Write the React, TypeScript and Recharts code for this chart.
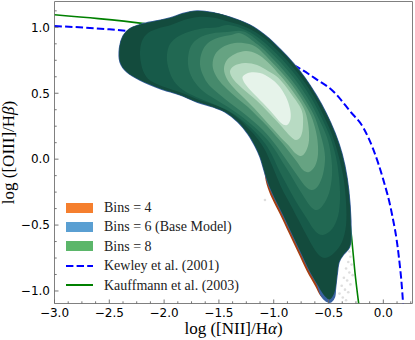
import React from "react";
import { ScatterChart, Scatter, XAxis, YAxis, ReferenceArea, Legend } from "recharts";

type Pt = [number, number];

// axes
const X_DOMAIN: [number, number] = [-3, 0.266];
const Y_DOMAIN: [number, number] = [-1.095, 1.196];
const X_MAJOR = [-3, -2.5, -2, -1.5, -1, -0.5, 0];
const Y_MAJOR = [-1, -0.5, 0, 0.5, 1];

// demarcation lines
const KEWLEY_X = [-3.0, -2.5, -2.0, -1.5, -1.0, -0.8, -0.6, -0.47, -0.3, -0.18, -0.09, 0.0, 0.077, 0.137, 0.172, 0.18];
const KEWLEY_Y = [1.01, 0.985, 0.943, 0.88, 0.775, 0.705, 0.6, 0.525, 0.36, 0.235, 0.07, -0.157, -0.41, -0.71, -1.0, -1.095];
const KAUFF_X = [-3.0, -2.6, -2.2, -1.8, -1.4, -1.0, -0.7, -0.5, -0.4, -0.33, -0.29, -0.26, -0.225];
const KAUFF_Y = [1.095, 1.066, 1.03, 0.98, 0.9, 0.72, 0.49, 0.19, -0.06, -0.32, -0.59, -0.85, -1.095];

// faint individual galaxies outside the contours
const OUTLIERS: Pt[] = [
  [-0.3, -0.74], [-0.32, -0.78], [-0.29, -0.8], [-0.34, -0.83], [-0.31, -0.86], [-0.28, -0.88],
  [-0.36, -0.9], [-0.33, -0.92], [-0.3, -0.95], [-0.38, -0.96], [-0.35, -0.99], [-0.32, -1.01],
  [-0.4, -1.02], [-0.37, -1.05], [-0.34, -1.07], [-0.31, -0.7], [-1.08, -0.31],
];

// outermost contour of each model
const BINS4_EDGE: Pt[] = [
  [-2.311, 0.991], [-2.204, 1.025], [-2.074, 1.048], [-1.947, 1.071], [-1.828, 1.105], [-1.7, 1.124],
  [-1.555, 1.112], [-1.399, 1.078], [-1.216, 1.017], [-1.07, 0.934], [-0.943, 0.835], [-0.824, 0.729],
  [-0.714, 0.615], [-0.614, 0.487], [-0.523, 0.35], [-0.441, 0.198], [-0.377, 0.039], [-0.331, -0.143],
  [-0.304, -0.348], [-0.295, -0.575], [-0.308, -0.666], [-0.359, -0.719], [-0.404, -0.78], [-0.422, -0.878],
  [-0.436, -0.977], [-0.455, -1.04], [-0.495, -1.074], [-0.525, -1.068], [-0.573, -1.038], [-0.625, -0.958],
  [-0.698, -0.851], [-0.78, -0.707], [-0.862, -0.562], [-0.944, -0.418], [-1.017, -0.297], [-1.066, -0.188],
  [-1.089, -0.082], [-1.125, 0.016], [-1.171, 0.1], [-1.235, 0.191], [-1.327, 0.282], [-1.445, 0.358],
  [-1.555, 0.396], [-1.7, 0.433], [-1.855, 0.487], [-2.038, 0.536], [-2.22, 0.6], [-2.339, 0.661],
  [-2.402, 0.737], [-2.407, 0.843], [-2.375, 0.934],
];
const BINS6_EDGE: Pt[] = [
  [-2.311, 0.991], [-2.204, 1.025], [-2.074, 1.048], [-1.947, 1.071], [-1.828, 1.105], [-1.7, 1.124],
  [-1.555, 1.112], [-1.399, 1.078], [-1.216, 1.017], [-1.07, 0.934], [-0.943, 0.835], [-0.824, 0.729],
  [-0.714, 0.615], [-0.614, 0.487], [-0.523, 0.35], [-0.441, 0.198], [-0.377, 0.039], [-0.331, -0.143],
  [-0.304, -0.348], [-0.295, -0.575], [-0.308, -0.666], [-0.359, -0.719], [-0.404, -0.78], [-0.422, -0.878],
  [-0.436, -0.977], [-0.445, -1.045], [-0.477, -1.083], [-0.523, -1.076], [-0.569, -1.029], [-0.605, -0.947],
  [-0.678, -0.84], [-0.76, -0.696], [-0.842, -0.553], [-0.924, -0.409], [-0.997, -0.287], [-1.052, -0.181],
  [-1.089, -0.082], [-1.125, 0.016], [-1.171, 0.1], [-1.235, 0.191], [-1.327, 0.282], [-1.445, 0.358],
  [-1.555, 0.396], [-1.7, 0.433], [-1.855, 0.487], [-2.038, 0.536], [-2.22, 0.6], [-2.339, 0.661],
  [-2.402, 0.737], [-2.407, 0.843], [-2.375, 0.934],
];

// Bins = 8 density levels, outside -> inside
const LEVEL_1: Pt[] = [
  [-2.311, 0.991], [-2.204, 1.025], [-2.074, 1.048], [-1.947, 1.071], [-1.828, 1.105], [-1.7, 1.124],
  [-1.555, 1.112], [-1.399, 1.078], [-1.216, 1.017], [-1.07, 0.934], [-0.943, 0.835], [-0.824, 0.729],
  [-0.714, 0.615], [-0.614, 0.487], [-0.523, 0.35], [-0.441, 0.198], [-0.377, 0.039], [-0.331, -0.143],
  [-0.304, -0.348], [-0.295, -0.575], [-0.308, -0.666], [-0.359, -0.719], [-0.404, -0.78], [-0.422, -0.878],
  [-0.436, -0.977], [-0.459, -1.037], [-0.495, -1.064], [-0.55, -1.022], [-0.605, -0.947], [-0.678, -0.84],
  [-0.76, -0.696], [-0.842, -0.553], [-0.924, -0.409], [-0.997, -0.287], [-1.052, -0.181], [-1.089, -0.082],
  [-1.125, 0.016], [-1.171, 0.1], [-1.235, 0.191], [-1.327, 0.282], [-1.445, 0.358], [-1.555, 0.396],
  [-1.7, 0.433], [-1.855, 0.487], [-2.038, 0.536], [-2.22, 0.6], [-2.339, 0.661], [-2.402, 0.737],
  [-2.407, 0.843], [-2.375, 0.934],
];
const LEVEL_2: Pt[] = [
  [-2.22, 0.813], [-2.202, 0.896], [-2.147, 0.957], [-2.056, 0.991], [-1.938, 1.017], [-1.819, 1.055],
  [-1.691, 1.078], [-1.555, 1.074], [-1.399, 1.04], [-1.235, 0.995], [-1.089, 0.919], [-0.961, 0.82],
  [-0.842, 0.714], [-0.733, 0.6], [-0.632, 0.471], [-0.55, 0.339], [-0.468, 0.187], [-0.409, 0.028],
  [-0.363, -0.143], [-0.34, -0.333], [-0.34, -0.5], [-0.377, -0.628], [-0.45, -0.712], [-0.532, -0.75],
  [-0.605, -0.712], [-0.687, -0.598], [-0.769, -0.469], [-0.851, -0.34], [-0.924, -0.226], [-0.979, -0.12],
  [-1.029, -0.022], [-1.075, 0.062], [-1.139, 0.145], [-1.226, 0.228], [-1.308, 0.297], [-1.418, 0.365],
  [-1.537, 0.411], [-1.682, 0.449], [-1.837, 0.502], [-2.011, 0.551], [-2.129, 0.597], [-2.183, 0.653],
  [-2.211, 0.729],
];
const LEVEL_3: Pt[] = [
  [-1.975, 0.767], [-1.956, 0.858], [-1.893, 0.919], [-1.782, 0.964], [-1.655, 0.991], [-1.527, 0.998],
  [-1.409, 1.017], [-1.253, 0.977], [-1.107, 0.901], [-0.979, 0.803], [-0.86, 0.697], [-0.751, 0.583],
  [-0.651, 0.454], [-0.572, 0.33], [-0.49, 0.179], [-0.432, 0.016], [-0.404, -0.143], [-0.395, -0.294],
  [-0.413, -0.431], [-0.468, -0.53], [-0.55, -0.575], [-0.623, -0.545], [-0.696, -0.454], [-0.778, -0.348],
  [-0.851, -0.241], [-0.915, -0.143], [-0.97, -0.052], [-1.016, 0.031], [-1.07, 0.107], [-1.143, 0.183],
  [-1.226, 0.251], [-1.327, 0.32], [-1.445, 0.38], [-1.573, 0.426], [-1.709, 0.471], [-1.828, 0.524],
  [-1.911, 0.593], [-1.956, 0.676],
];
const LEVEL_4: Pt[] = [
  [-1.782, 0.767], [-1.755, 0.858], [-1.682, 0.919], [-1.564, 0.953], [-1.427, 0.964], [-1.273, 0.968],
  [-1.127, 0.885], [-0.999, 0.786], [-0.88, 0.68], [-0.771, 0.566], [-0.671, 0.437], [-0.597, 0.32],
  [-0.515, 0.169], [-0.477, 0.024], [-0.468, -0.12], [-0.495, -0.257], [-0.55, -0.348], [-0.605, -0.386],
  [-0.66, -0.363], [-0.724, -0.287], [-0.787, -0.204], [-0.851, -0.112], [-0.915, -0.029], [-0.97, 0.047],
  [-1.034, 0.122], [-1.107, 0.191], [-1.198, 0.259], [-1.299, 0.327], [-1.418, 0.396], [-1.537, 0.456],
  [-1.646, 0.517], [-1.728, 0.593], [-1.773, 0.676],
];
const LEVEL_5: Pt[] = [
  [-1.673, 0.722], [-1.655, 0.813], [-1.6, 0.881], [-1.5, 0.923], [-1.39, 0.942], [-1.292, 0.952],
  [-1.146, 0.869], [-1.018, 0.77], [-0.9, 0.664], [-0.79, 0.55], [-0.69, 0.421], [-0.621, 0.311],
  [-0.559, 0.145], [-0.532, 0.016], [-0.55, -0.112], [-0.596, -0.204], [-0.651, -0.234], [-0.705, -0.211],
  [-0.769, -0.143], [-0.833, -0.067], [-0.897, 0.009], [-0.961, 0.084], [-1.025, 0.153], [-1.098, 0.221],
  [-1.189, 0.289], [-1.289, 0.358], [-1.399, 0.426], [-1.5, 0.494], [-1.591, 0.562], [-1.646, 0.638],
];
const LEVEL_6: Pt[] = [
  [-1.555, 0.691], [-1.546, 0.775], [-1.491, 0.835], [-1.399, 0.873], [-1.28, 0.881], [-1.164, 0.852],
  [-1.036, 0.753], [-0.918, 0.647], [-0.808, 0.534], [-0.708, 0.405], [-0.646, 0.301], [-0.605, 0.168],
  [-0.596, 0.039], [-0.623, -0.052], [-0.678, -0.097], [-0.733, -0.082], [-0.787, -0.022], [-0.851, 0.047],
  [-0.915, 0.115], [-0.988, 0.183], [-1.061, 0.251], [-1.143, 0.32], [-1.235, 0.396], [-1.336, 0.464],
  [-1.427, 0.532], [-1.509, 0.608],
];
const LEVEL_7: Pt[] = [
  [-1.454, 0.684], [-1.427, 0.752], [-1.354, 0.798], [-1.253, 0.82], [-1.152, 0.798], [-1.056, 0.737],
  [-0.937, 0.63], [-0.828, 0.517], [-0.727, 0.388], [-0.687, 0.274], [-0.678, 0.145], [-0.705, 0.062],
  [-0.751, 0.024], [-0.806, 0.047], [-0.86, 0.1], [-0.933, 0.16], [-1.006, 0.228], [-1.089, 0.305],
  [-1.18, 0.388], [-1.271, 0.464], [-1.363, 0.54], [-1.427, 0.608],
];
const LEVEL_8: Pt[] = [
  [-1.399, 0.661], [-1.363, 0.707], [-1.262, 0.729], [-1.152, 0.714], [-1.052, 0.669], [-0.956, 0.615],
  [-0.847, 0.502], [-0.746, 0.373], [-0.733, 0.259], [-0.751, 0.176], [-0.797, 0.145], [-0.851, 0.176],
  [-0.924, 0.244], [-1.034, 0.343], [-1.161, 0.449], [-1.28, 0.532], [-1.363, 0.6],
];
const LEVEL_9: Pt[] = [
  [-1.28, 0.63], [-1.216, 0.657], [-1.125, 0.653], [-1.034, 0.615], [-0.952, 0.555], [-0.888, 0.471],
  [-0.851, 0.38], [-0.847, 0.305], [-0.879, 0.259], [-0.933, 0.274], [-1.006, 0.343], [-1.098, 0.426],
  [-1.189, 0.502], [-1.253, 0.562], [-1.28, 0.6],
];
const BINS8_LEVELS = [LEVEL_1, LEVEL_2, LEVEL_3, LEVEL_4, LEVEL_5, LEVEL_6, LEVEL_7, LEVEL_8, LEVEL_9];
const BINS8_COLORS = ["#134b3d", "#175a49", "#216852", "#2f765d", "#468a6c", "#66a382", "#8fc0a0", "#b8dbc3", "#e6f3ea"];

const LEGEND_ITEMS = [
  { label: "Bins = 4", kind: "patch", color: "#f57f2e" },
  { label: "Bins = 6 (Base Model)", kind: "patch", color: "#5a9fd2" },
  { label: "Bins = 8", kind: "patch", color: "#5bb66a" },
  { label: "Kewley et al. (2001)", kind: "dash", color: "#0000ff" },
  { label: "Kauffmann et al. (2003)", kind: "line", color: "#008000" },
];

const toXY = (pts: Pt[]) => pts.map(([x, y]) => ({ x, y }));
const zipXY = (xs: number[], ys: number[]) => xs.map((x, i) => ({ x, y: ys[i] }));

// smooth closed path through the projected points (Catmull-Rom)
function closedPath(pts: { x: number; y: number }[]) {
  const n = pts.length;
  if (!n) return "";
  let d = `M${pts[0].x},${pts[0].y}`;
  for (let i = 0; i < n; i++) {
    const p0 = pts[(i - 1 + n) % n];
    const p1 = pts[i];
    const p2 = pts[(i + 1) % n];
    const p3 = pts[(i + 2) % n];
    const c1x = p1.x + (p2.x - p0.x) / 6;
    const c1y = p1.y + (p2.y - p0.y) / 6;
    const c2x = p2.x - (p3.x - p1.x) / 6;
    const c2y = p2.y - (p3.y - p1.y) / 6;
    d += `C${c1x},${c1y} ${c2x},${c2y} ${p2.x},${p2.y}`;
  }
  return d + "Z";
}

const noDot = () => <g />;

const isMajor = (v: number) => Math.abs(v * 2 - Math.round(v * 2)) < 1e-6;
const fmt = (v: number) => v.toFixed(1).replace("-", "\u2212");

function minorTicks(major: number[], lo: number, hi: number) {
  const out: number[] = [];
  const step = (major[1] - major[0]) / 4;
  for (let v = major[0] - 8 * step; v <= hi + 1e-9; v += step) {
    if (v >= lo - 1e-9) out.push(Math.round(v * 1000) / 1000);
  }
  return out;
}
const X_TICKS = minorTicks(X_MAJOR, X_DOMAIN[0], X_DOMAIN[1]);
const Y_TICKS = minorTicks(Y_MAJOR, Y_DOMAIN[0], Y_DOMAIN[1]);

const XTick = (props: any) => {
  const { x, y, payload } = props;
  const major = isMajor(payload.value);
  return (
    <g>
      <line x1={x} x2={x} y1={y} y2={y - (major ? 4 : 2.2)} stroke="#666" strokeWidth={0.9} />
      {major && (
        <text x={x} y={y + 13.5} textAnchor="middle" fontFamily="DejaVu Sans" fontSize={12} fill="#000">
          {fmt(payload.value)}
        </text>
      )}
    </g>
  );
};

const YTick = (props: any) => {
  const { x, y, payload } = props;
  const major = isMajor(payload.value);
  return (
    <g>
      <line x1={x} x2={x + (major ? 4 : 2.2)} y1={y} y2={y} stroke="#666" strokeWidth={0.9} />
      {major && (
        <text x={x - 4.5} y={y + 4.3} textAnchor="end" fontFamily="DejaVu Sans" fontSize={12} fill="#000">
          {fmt(payload.value)}
        </text>
      )}
    </g>
  );
};

const XLabel = (props: any) => {
  const vb = props.viewBox || { x: 54.5, y: 303.5, width: 358, height: 36 };
  return (
    <text x={vb.x + vb.width / 2} y={vb.y + 30.5} textAnchor="middle" fontFamily="Liberation Serif" fontSize={17} fill="#000">
      log ([NII]/H<tspan fontStyle="italic">α</tspan>)
    </text>
  );
};

const YLabel = (props: any) => {
  const vb = props.viewBox || { x: 0.5, y: 1.5, width: 54, height: 302 };
  const cx = 14;
  const cy = vb.y + vb.height / 2;
  return (
    <text x={cx} y={cy} transform={`rotate(-90 ${cx} ${cy})`} textAnchor="middle" fontFamily="Liberation Serif" fontSize={17} fill="#000">
      log ([OIII]/H<tspan fontStyle="italic">β</tspan>)
    </text>
  );
};

const LegendBox = () => (
  <div style={{ fontFamily: "Liberation Serif", fontSize: 14, color: "#222" }}>
    {LEGEND_ITEMS.map((it) => (
      <div key={it.label} style={{ display: "flex", alignItems: "center", height: 19.4, lineHeight: "19.4px", whiteSpace: "nowrap" }}>
        <svg width={27} height={12} style={{ marginRight: 11 }}>
          {it.kind === "patch" && <rect x={0} y={1} width={27} height={10} fill={it.color} />}
          {it.kind === "dash" && <line x1={0} x2={27} y1={6} y2={6} stroke={it.color} strokeWidth={2} strokeDasharray="7.4 3.2" />}
          {it.kind === "line" && <line x1={0} x2={27} y1={6} y2={6} stroke={it.color} strokeWidth={2} />}
        </svg>
        <span>{it.label}</span>
      </div>
    ))}
  </div>
);

const band = (key: string, pts: Pt[], fill: string, rim?: string) => (
  <Scatter
    key={key}
    data={toXY(pts)}
    isAnimationActive={false}
    shape={noDot}
    legendType="none"
    line={(p: any) => (
      <path d={closedPath(p.points)} fill={fill} stroke={rim || "none"} strokeWidth={rim ? 1.4 : 0} />
    )}
  />
);

export default function App() {
  return (
    <div style={{ position: "absolute", left: 0, top: 0, background: "#fff" }}>
      <ScatterChart width={415} height={340} margin={{ top: 1.5, right: 2.5, bottom: 0.5, left: 0.5 }}>
        <XAxis
          type="number"
          dataKey="x"
          domain={X_DOMAIN}
          allowDataOverflow
          ticks={X_TICKS}
          interval={0}
          tick={<XTick />}
          tickLine={false}
          axisLine={false}
          tickSize={0}
          tickMargin={0}
          height={36}
          label={<XLabel />}
        />
        <YAxis
          type="number"
          dataKey="y"
          domain={Y_DOMAIN}
          allowDataOverflow
          ticks={Y_TICKS}
          interval={0}
          tick={<YTick />}
          tickLine={false}
          axisLine={false}
          tickSize={0}
          tickMargin={0}
          width={54}
          label={<YLabel />}
        />
        <Scatter data={toXY(OUTLIERS)} isAnimationActive={false} fill="#c8c8c8" fillOpacity={0.6}
          shape={(p: any) => <circle cx={p.cx} cy={p.cy} r={1.3} fill="#c8c8c8" fillOpacity={0.6} />} legendType="none" />
        <Scatter data={zipXY(KAUFF_X, KAUFF_Y)} isAnimationActive={false} shape={noDot} legendType="none"
          line={{ stroke: "#008000", strokeWidth: 1.6 }} lineJointType="monotoneX" />
        <Scatter data={zipXY(KEWLEY_X, KEWLEY_Y)} isAnimationActive={false} shape={noDot} legendType="none"
          line={{ stroke: "#0000ff", strokeWidth: 2, strokeDasharray: "7.4 3.2" }} lineJointType="monotoneX" />
        {band("bins4", BINS4_EDGE, "#a53f10")}
        {band("bins6", BINS6_EDGE, "#3a62a0", "#3a62a0")}
        {BINS8_LEVELS.map((lvl, i) => band(`bins8-${i}`, lvl, BINS8_COLORS[i]))}
        <ReferenceArea x1={X_DOMAIN[0]} x2={X_DOMAIN[1]} y1={Y_DOMAIN[0]} y2={Y_DOMAIN[1]} fill="none" fillOpacity={0}
          stroke="#808080" strokeWidth={1} ifOverflow="visible" />
        <Legend layout="vertical" align="center" verticalAlign="middle" content={() => <LegendBox />}
          wrapperStyle={{ left: 66, top: 198, width: 200, height: 100 }} />
      </ScatterChart>
    </div>
  );
}
